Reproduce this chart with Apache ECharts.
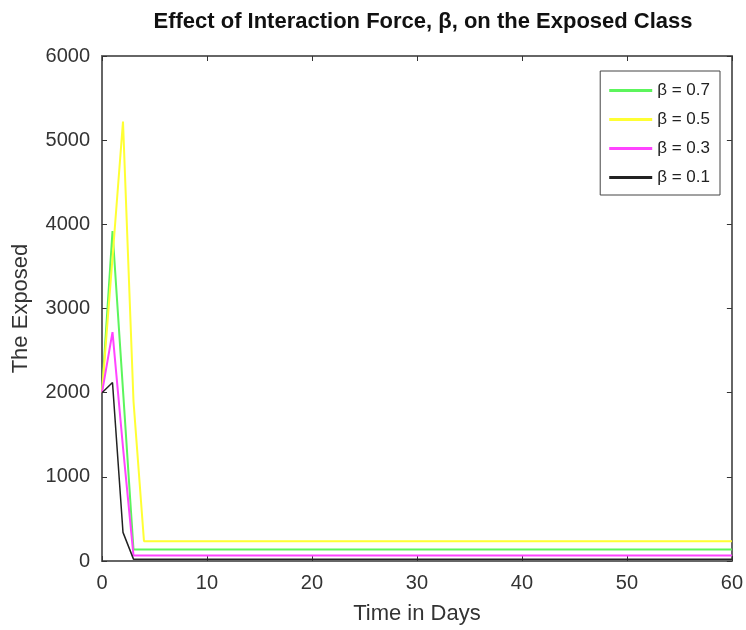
<!DOCTYPE html>
<html>
<head>
<meta charset="utf-8">
<script src="https://cdn.jsdelivr.net/npm/echarts@6/dist/echarts.min.js"></script>
<style>
  html, body { margin: 0; padding: 0; background: #fff; }
  #chart { width: 746px; height: 630px; }
</style>
</head>
<body>
<div id="chart"></div>
<script>
// time points (days) for each curve
var days07 = [0, 1, 2, 3, 60];
var days05 = [0, 1, 2, 3, 4, 60];
var days03 = [0, 1, 2, 3, 60];
var days01 = [0, 1, 2, 3, 60];

// exposed values
var exposed07 = [2000, 3920, 2030, 138, 138];
var exposed05 = [2000, 3600, 5220, 1900, 235, 235];
var exposed03 = [2000, 2720, 1350, 65, 65];
var exposed01 = [2000, 2120, 340, 22, 22];

var names = ['β = 0.7', 'β = 0.5', 'β = 0.3', 'β = 0.1'];
var colors = ['#5cf55c', '#ffff33', '#ff44ff', '#222222'];

function pairs(xs, ys) {
    var out = [];
    for (var i = 0; i < xs.length; i++) out.push([xs[i], ys[i]]);
    return out;
}

var allDays = [days07, days05, days03, days01];
var allVals = [exposed07, exposed05, exposed03, exposed01];

var series = [];
for (var k = 0; k < names.length; k++) {
    series.push({
        name: names[k],
        type: 'line',
        data: pairs(allDays[k], allVals[k]),
        symbol: 'none',
        lineStyle: { color: colors[k], width: k == 3 ? 1.5 : 2 },
        itemStyle: { color: colors[k] },
        animation: false
    });
}

var frame = '#666';
var font = 'Liberation Sans, Arial, sans-serif';

option = {
    backgroundColor: '#fff',
    title: {
        text: 'Effect of Interaction Force, β, on the Exposed Class',
        left: 418,
        textAlign: 'center',
        top: 6,
        textStyle: { fontFamily: font, fontSize: 22, fontWeight: 'bold', color: '#111' }
    },
    legend: {
        data: names,
        orient: 'vertical',
        right: 26,
        top: 71,
        itemWidth: 43,
        itemHeight: 3,
        itemGap: 12,
        icon: 'rect',
        padding: [11, 10, 9, 9],
        borderColor: '#444',
        borderWidth: 1,
        backgroundColor: '#fff',
        textStyle: { fontFamily: font, fontSize: 17, color: '#222' }
    },
    grid: { left: 102, right: 12, top: 56, bottom: 68 },
    xAxis: [{
        type: 'value',
        min: 0, max: 60, interval: 10,
        name: 'Time in Days',
        nameLocation: 'middle',
        nameGap: 42,
        nameTextStyle: { fontFamily: font, fontSize: 22, color: '#333' },
        axisLine: { onZero: false, lineStyle: { color: frame, width: 2 } },
        axisTick: { inside: true, length: 5, lineStyle: { color: '#333' } },
        axisLabel: { fontFamily: font, fontSize: 20, color: '#333', margin: 12 },
        splitLine: { show: false }
    }, {
        type: 'value',
        position: 'top',
        min: 0, max: 60, interval: 10,
        axisLine: { show: true, onZero: false, lineStyle: { color: frame, width: 2 } },
        axisTick: { inside: true, length: 5, lineStyle: { color: '#333' } },
        axisLabel: { show: false },
        splitLine: { show: false }
    }],
    yAxis: [{
        type: 'value',
        min: 0, max: 6000, interval: 1000,
        name: 'The Exposed',
        nameLocation: 'middle',
        nameGap: 70,
        nameTextStyle: { fontFamily: font, fontSize: 22, color: '#333' },
        axisLine: { show: true, onZero: false, lineStyle: { color: frame, width: 2 } },
        axisTick: { show: true, inside: true, length: 5, lineStyle: { color: '#333' } },
        axisLabel: {
            fontFamily: font, fontSize: 20, color: '#333', margin: 12,
            formatter: function (v) { return String(v); }
        },
        splitLine: { show: false }
    }, {
        type: 'value',
        position: 'right',
        min: 0, max: 6000, interval: 1000,
        axisLine: { show: true, onZero: false, lineStyle: { color: frame, width: 2 } },
        axisTick: { show: true, inside: true, length: 5, lineStyle: { color: '#333' } },
        axisLabel: { show: false },
        splitLine: { show: false }
    }],
    series: series
};

echarts.init(document.getElementById('chart')).setOption(option);
</script>
</body>
</html>
